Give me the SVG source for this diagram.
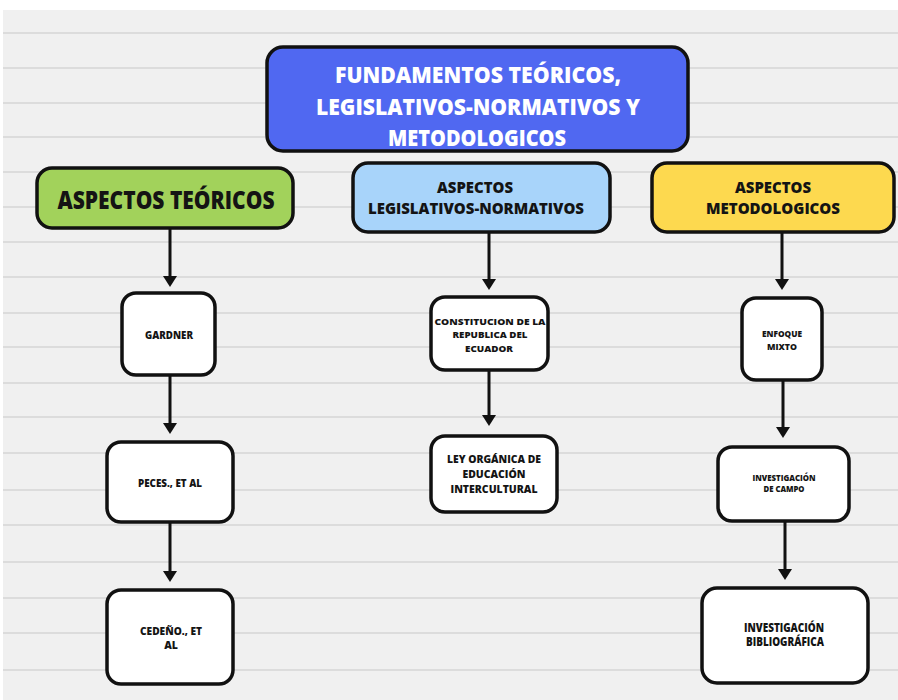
<svg xmlns="http://www.w3.org/2000/svg" width="898" height="700" viewBox="0 0 898 700">
<style>
.box{stroke:#111;stroke-width:3.5}
.t{font-family:"Open Sans","Liberation Sans",sans-serif;font-weight:800;text-anchor:middle;fill:#141414}
.w{fill:#ffffff}
.rule{stroke:#d6d6d6;stroke-width:1.6}
.con{stroke:#111;stroke-width:3;fill:none}
</style>
<defs>
<path id="tri" d="M-7,-11 L7,-11 L0,0 Z" fill="#111"/>
</defs>
<rect x="0" y="0" width="898" height="700" fill="#f0f0f0"/>
<rect x="0" y="0" width="898" height="10" fill="#ffffff"/>
<rect x="0" y="0" width="3" height="700" fill="#ffffff"/>
<g id="rules">
<line class="rule" x1="3" y1="33" x2="898" y2="33"/>
<line class="rule" x1="3" y1="68" x2="898" y2="68"/>
<line class="rule" x1="3" y1="103" x2="898" y2="103"/>
<line class="rule" x1="3" y1="137" x2="898" y2="137"/>
<line class="rule" x1="3" y1="172" x2="898" y2="172"/>
<line class="rule" x1="3" y1="207" x2="898" y2="207"/>
<line class="rule" x1="3" y1="242" x2="898" y2="242"/>
<line class="rule" x1="3" y1="277" x2="898" y2="277"/>
<line class="rule" x1="3" y1="313" x2="898" y2="313"/>
<line class="rule" x1="3" y1="347" x2="898" y2="347"/>
<line class="rule" x1="3" y1="383" x2="898" y2="383"/>
<line class="rule" x1="3" y1="417" x2="898" y2="417"/>
<line class="rule" x1="3" y1="453" x2="898" y2="453"/>
<line class="rule" x1="3" y1="490" x2="898" y2="490"/>
<line class="rule" x1="3" y1="525" x2="898" y2="525"/>
<line class="rule" x1="3" y1="562" x2="898" y2="562"/>
<line class="rule" x1="3" y1="598" x2="898" y2="598"/>
<line class="rule" x1="3" y1="633" x2="898" y2="633"/>
<line class="rule" x1="3" y1="670" x2="898" y2="670"/>
</g>

<g id="connectors">
<line class="con" x1="170" y1="228" x2="170" y2="276"/><use href="#tri" x="170" y="287"/>
<line class="con" x1="170" y1="375" x2="170" y2="423"/><use href="#tri" x="170" y="434"/>
<line class="con" x1="170" y1="522" x2="170" y2="571"/><use href="#tri" x="170" y="582"/>
<line class="con" x1="489" y1="232" x2="489" y2="279"/><use href="#tri" x="489" y="290"/>
<line class="con" x1="489" y1="370" x2="489" y2="415"/><use href="#tri" x="489" y="426"/>
<line class="con" x1="782" y1="232" x2="782" y2="279"/><use href="#tri" x="782" y="290"/>
<line class="con" x1="783" y1="380" x2="783" y2="427"/><use href="#tri" x="783" y="438"/>
<line class="con" x1="785" y1="521" x2="785" y2="569"/><use href="#tri" x="785" y="580"/>
</g>

<g id="main">
<rect class="box" x="267" y="47" width="421" height="104" rx="16" fill="#5068f1"/>
<text class="t w" x="478" y="83" font-size="23" textLength="286" lengthAdjust="spacingAndGlyphs">FUNDAMENTOS TEÓRICOS,</text>
<text class="t w" x="478" y="115" font-size="23" textLength="324" lengthAdjust="spacingAndGlyphs">LEGISLATIVOS-NORMATIVOS Y</text>
<text class="t w" x="477" y="146" font-size="23" textLength="178" lengthAdjust="spacingAndGlyphs">METODOLOGICOS</text>
</g>

<g id="teoricos">
<rect class="box" x="37" y="168" width="256" height="60" rx="15" fill="#a2d25b"/>
<text class="t" x="166" y="209" font-size="24" textLength="217" lengthAdjust="spacingAndGlyphs">ASPECTOS TEÓRICOS</text>
</g>

<g id="legislativos">
<rect class="box" x="353" y="163" width="257" height="69" rx="15" fill="#a8d4fa"/>
<text class="t" x="475" y="193" font-size="16" textLength="76" lengthAdjust="spacingAndGlyphs">ASPECTOS</text>
<text class="t" x="476" y="214" font-size="16" textLength="216" lengthAdjust="spacingAndGlyphs">LEGISLATIVOS-NORMATIVOS</text>
</g>

<g id="metodologicos">
<rect class="box" x="652" y="163" width="242" height="69" rx="15" fill="#fdd94f"/>
<text class="t" x="773" y="193" font-size="16" textLength="76" lengthAdjust="spacingAndGlyphs">ASPECTOS</text>
<text class="t" x="773" y="214" font-size="16" textLength="134" lengthAdjust="spacingAndGlyphs">METODOLOGICOS</text>
</g>

<g id="gardner">
<rect class="box" x="122" y="293" width="93" height="82" rx="14" fill="#ffffff"/>
<text class="t" x="169" y="339" font-size="10" textLength="48" lengthAdjust="spacingAndGlyphs">GARDNER</text>
</g>

<g id="peces">
<rect class="box" x="107" y="442" width="126" height="80" rx="14" fill="#ffffff"/>
<text class="t" x="170" y="487" font-size="10.5" textLength="64" lengthAdjust="spacingAndGlyphs">PECES., ET AL</text>
</g>

<g id="cedeno">
<rect class="box" x="107" y="590" width="126" height="94" rx="14" fill="#ffffff"/>
<text class="t" x="171" y="635" font-size="10.5" textLength="62" lengthAdjust="spacingAndGlyphs">CEDEÑO., ET</text>
<text class="t" x="171" y="649" font-size="10.5">AL</text>
</g>

<g id="constitucion">
<rect class="box" x="431" y="297" width="117" height="73" rx="14" fill="#ffffff"/>
<text class="t" x="490" y="325" font-size="9" textLength="111" lengthAdjust="spacingAndGlyphs">CONSTITUCION DE LA</text>
<text class="t" x="490" y="338" font-size="9" textLength="75" lengthAdjust="spacingAndGlyphs">REPUBLICA DEL</text>
<text class="t" x="489" y="352" font-size="9" textLength="48" lengthAdjust="spacingAndGlyphs">ECUADOR</text>
</g>

<g id="ley">
<rect class="box" x="431" y="436" width="126" height="76" rx="14" fill="#ffffff"/>
<text class="t" x="494" y="463" font-size="11" textLength="94" lengthAdjust="spacingAndGlyphs">LEY ORGÁNICA DE</text>
<text class="t" x="494" y="478" font-size="11" textLength="63" lengthAdjust="spacingAndGlyphs">EDUCACIÓN</text>
<text class="t" x="494" y="493" font-size="11" textLength="87" lengthAdjust="spacingAndGlyphs">INTERCULTURAL</text>
</g>

<g id="enfoque">
<rect class="box" x="742" y="298" width="80" height="82" rx="14" fill="#ffffff"/>
<text class="t" x="782" y="337" font-size="9" textLength="40" lengthAdjust="spacingAndGlyphs">ENFOQUE</text>
<text class="t" x="782" y="350" font-size="9" textLength="30" lengthAdjust="spacingAndGlyphs">MIXTO</text>
</g>

<g id="campo">
<rect class="box" x="718" y="447" width="131" height="74" rx="14" fill="#ffffff"/>
<text class="t" x="784" y="481" font-size="8" textLength="63" lengthAdjust="spacingAndGlyphs">INVESTIGACIÓN</text>
<text class="t" x="784" y="492" font-size="8" textLength="41" lengthAdjust="spacingAndGlyphs">DE CAMPO</text>
</g>

<g id="bibliografica">
<rect class="box" x="702" y="588" width="166" height="95" rx="15" fill="#ffffff"/>
<text class="t" x="784" y="632" font-size="11.5" textLength="80" lengthAdjust="spacingAndGlyphs">INVESTIGACIÓN</text>
<text class="t" x="785" y="646" font-size="11.5" textLength="78" lengthAdjust="spacingAndGlyphs">BIBLIOGRÁFICA</text>
</g>
</svg>
